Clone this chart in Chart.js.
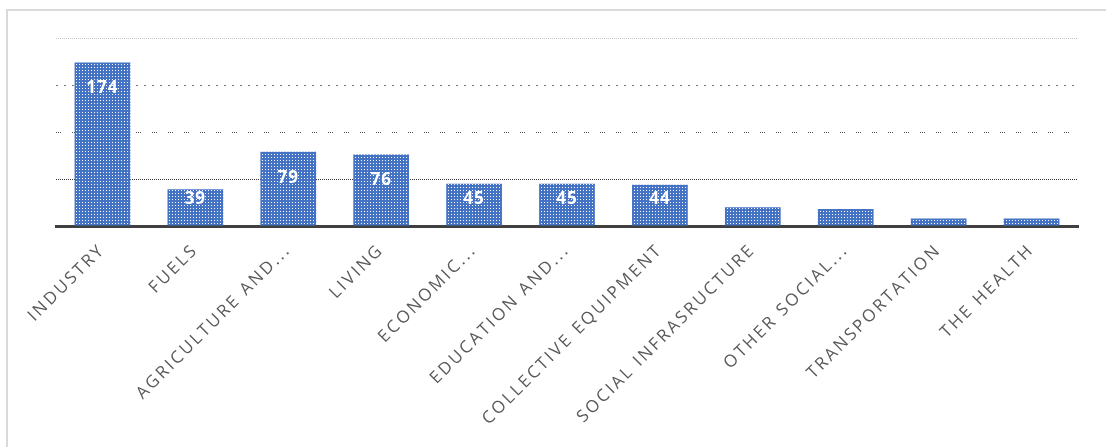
<!DOCTYPE html>
<html>
<head>
<meta charset="utf-8">
<script src="https://cdn.jsdelivr.net/npm/chart.js@4.4.1/dist/chart.umd.min.js"></script>
<style>
  html, body { margin: 0; padding: 0; background: #fff; }
  #wrap { position: relative; width: 1106px; height: 447px; overflow: hidden; }
  #frame { position: absolute; left: 6px; top: 9px; width: 1200px; height: 600px; border: 2px solid #d9d9d9; }
  canvas { position: absolute; left: 0; top: 0; }
</style>
</head>
<body>
<div id="wrap">
  <div id="frame"></div>
  <canvas id="theChart" width="1106" height="447"></canvas>
</div>
<script>
const categories = [
  "INDUSTRY",
  "FUELS",
  "AGRICULTURE AND...",
  "LIVING",
  "ECONOMIC...",
  "EDUCATION AND...",
  "COLLECTIVE EQUIPMENT",
  "SOCIAL INFRASRUCTURE",
  "OTHER SOCIAL...",
  "TRANSPORTATION",
  "THE HEALTH",
];
const values = [174, 39, 79, 76, 45, 45, 44, 20, 18, 8, 8];
const yTicks = [0, 50, 100, 150, 200];

// dotted fill like the original bars
function dotPattern() {
  const c = document.createElement("canvas");
  c.width = 3;
  c.height = 3;
  const g = c.getContext("2d");
  g.fillStyle = "#4472c4";
  g.fillRect(0, 0, 3, 3);
  g.fillStyle = "#ffffff";
  g.fillRect(1, 1, 1, 1);
  return g.createPattern(c, "repeat");
}

// each gridline has its own dot style
const GRID = {
  50: { color: "#333333", dash: [1, 1] },
  100: { color: "#555555", dash: [1, 1, 1, 1, 1, 11] },
  150: { color: "#777777", dash: [2, 6] },
  200: { color: "#c4c4c4", dash: [1, 1] },
};

// the axis labels of the original are widely tracked
const spacing = {
  id: "spacing",
  beforeLayout(chart) {
    chart.ctx.letterSpacing = "2.5px";
  },
  beforeDraw(chart) {
    chart.ctx.letterSpacing = "2.5px";
  },
};

const valueLabels = {
  id: "valueLabels",
  afterDatasetsDraw(chart) {
    const ctx = chart.ctx;
    const meta = chart.getDatasetMeta(0);
    ctx.save();
    ctx.letterSpacing = "1px";
    ctx.fillStyle = "#ffffff";
    ctx.font = "bold 17px 'Open Sans'";
    ctx.textAlign = "center";
    ctx.textBaseline = "middle";
    meta.data.forEach((bar, i) => {
      const v = values[i];
      if (v < 30) return;
      const y = Math.min(bar.y + 26, bar.base - 26);
      ctx.fillText(String(v), bar.x, y);
    });
    ctx.restore();
  },
};

const config = {
  type: "bar",
  data: {
    labels: categories,
    datasets: [
      {
        data: values,
        backgroundColor: dotPattern(),
        borderWidth: 0,
        barPercentage: 0.6,
        categoryPercentage: 1.0,
      },
    ],
  },
  options: {
    responsive: false,
    animation: false,
    layout: {
      padding: { left: 56, right: 28, top: 38, bottom: 0 },
    },
    plugins: {
      legend: { display: false },
      tooltip: { enabled: false },
      title: { display: false },
    },
    scales: {
      x: {
        grid: { display: false, drawTicks: false },
        border: { display: true, color: "#404040", width: 3 },
        ticks: {
          color: "#595959",
          font: { family: "'Open Sans'", size: 17 },
          maxRotation: 45,
          minRotation: 45,
          padding: 14,
          autoSkip: false,
        },
        afterFit: (scale) => {
          scale.height = 221;
        },
      },
      y: {
        min: 0,
        max: 200,
        afterBuildTicks: (scale) => {
          scale.ticks = yTicks.map((v) => ({ value: v }));
        },
        ticks: { display: false },
        grid: {
          drawTicks: false,
          lineWidth: 1,
          color: (c) => (GRID[c.tick.value] ? GRID[c.tick.value].color : "rgba(0,0,0,0)"),
        },
        border: {
          display: false,
          dash: (c) => (c.tick && GRID[c.tick.value] ? GRID[c.tick.value].dash : []),
        },
        afterFit: (scale) => {
          scale.width = 0;
        },
      },
    },
  },
  plugins: [spacing, valueLabels],
};

const theChart = new Chart(document.getElementById("theChart"), config);
</script>
</body>
</html>
